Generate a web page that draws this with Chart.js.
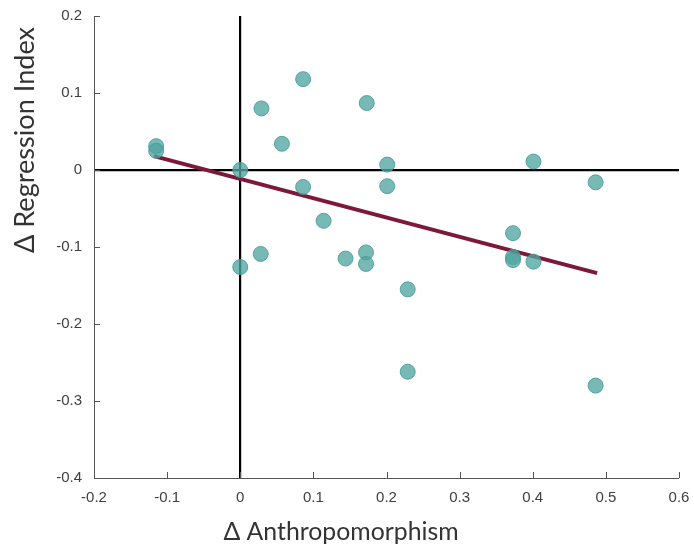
<!DOCTYPE html>
<html>
<head>
<meta charset="utf-8">
<script src="https://cdn.jsdelivr.net/npm/chart.js@4/dist/chart.umd.min.js"></script>
<style>
  html, body { margin: 0; padding: 0; background: #ffffff; }
  #wrap { position: relative; width: 694px; height: 550px; }
</style>
</head>
<body>
<div id="wrap"><canvas id="c" width="694" height="550"></canvas></div>
<script>
// ---- data ----
const anthroDelta = [-0.115, -0.115, 0.000, 0.029, 0.057, 0.086, 0.173, 0.201, 0.086, 0.201,
                     0.114, 0.144, 0.172, 0.172, 0.229, 0.229, 0.000, 0.028, 0.401, 0.486,
                     0.373, 0.373, 0.373, 0.401, 0.486];
const regressionDelta = [0.031, 0.025, 0.000, 0.080, 0.034, 0.118, 0.087, 0.007, -0.022, -0.021,
                         -0.066, -0.115, -0.107, -0.122, -0.155, -0.262, -0.126, -0.109, 0.011, -0.016,
                         -0.082, -0.113, -0.117, -0.119, -0.280];
const fitX = [-0.118, 0.488];
const fitY = [0.018, -0.134];
const xTicks = [-0.2, -0.1, 0, 0.1, 0.2, 0.3, 0.4, 0.5, 0.6];
const yTicks = [-0.4, -0.3, -0.2, -0.1, 0, 0.1, 0.2];
const xTitle = 'Δ Anthropomorphism';
const yTitle = 'Δ Regression Index';

const scatterPts = anthroDelta.map((x, i) => ({ x: x, y: regressionDelta[i] }));
const fitPts = fitX.map((x, i) => ({ x: x, y: fitY[i] }));

const tickFont = { family: '"Liberation Sans", Arial, sans-serif', size: 15 };
const tickColor = '#404040';
const axisColor = '#555555';

// inward tick marks on left and bottom axes
const inwardTicks = {
  id: 'inwardTicks',
  afterDatasetsDraw(chart) {
    const { ctx, chartArea, scales } = chart;
    ctx.save();
    ctx.strokeStyle = axisColor;
    ctx.lineWidth = 1;
    const len = 6;
    xTicks.forEach(v => {
      const px = Math.round(scales.x.getPixelForValue(v)) + 0.5;
      ctx.beginPath();
      ctx.moveTo(px, chartArea.bottom);
      ctx.lineTo(px, chartArea.bottom - len);
      ctx.stroke();
    });
    yTicks.forEach(v => {
      const py = Math.round(scales.y.getPixelForValue(v)) + 0.5;
      ctx.beginPath();
      ctx.moveTo(chartArea.left, py);
      ctx.lineTo(chartArea.left + len, py);
      ctx.stroke();
    });
    ctx.restore();
  }
};

// axis titles placed as in the reference
const axisTitles = {
  id: 'axisTitles',
  afterDraw(chart) {
    const { ctx } = chart;
    const fam = 'Lato, "Open Sans", sans-serif';
    function fitFont(text, targetW) {
      ctx.font = '20px ' + fam;
      const w = ctx.measureText(text).width;
      return (20 * targetW / w);
    }
    ctx.save();
    ctx.fillStyle = '#333333';
    ctx.textAlign = 'center';
    ctx.textBaseline = 'alphabetic';
    let fs = fitFont(xTitle, 235);
    ctx.font = fs.toFixed(1) + 'px ' + fam;
    ctx.fillText(xTitle, 341, 540);
    fs = fitFont(yTitle, 226);
    ctx.font = fs.toFixed(1) + 'px ' + fam;
    ctx.translate(34, 140);
    ctx.rotate(-Math.PI / 2);
    ctx.fillText(yTitle, 0, 0);
    ctx.restore();
  }
};

new Chart(document.getElementById('c'), {
  type: 'scatter',
  data: {
    datasets: [
      {
        label: 'data',
        data: scatterPts,
        order: 0,
        pointRadius: 7.5,
        pointHoverRadius: 7.5,
        backgroundColor: 'rgba(80,165,160,0.78)',
        borderColor: 'rgba(70,155,152,0.85)',
        borderWidth: 1
      },
      {
        label: 'fit',
        type: 'line',
        data: fitPts,
        order: 1,
        showLine: true,
        pointRadius: 0,
        borderColor: '#7e1838',
        borderWidth: 4,
        fill: false
      }
    ]
  },
  options: {
    responsive: false,
    animation: false,
    events: [],
    layout: { padding: { left: 0, right: 15, top: 16, bottom: 0 } },
    plugins: { legend: { display: false }, tooltip: { enabled: false } },
    scales: {
      x: {
        type: 'linear',
        min: -0.2, max: 0.6,
        afterFit(s) { s.height = 72; s.paddingLeft = 0; s.paddingRight = 0; },
        afterBuildTicks(s) { s.ticks = xTicks.map(v => ({ value: v })); },
        border: { display: true, color: axisColor, width: 1 },
        grid: {
          drawOnChartArea: true, drawTicks: false,
          color: c => (c.tick && c.tick.value === 0 ? '#000000' : 'rgba(0,0,0,0)'),
          lineWidth: c => (c.tick && c.tick.value === 0 ? 2.2 : 0)
        },
        ticks: {
          font: tickFont, color: tickColor, padding: 11,
          callback: v => String(Math.round(v * 10) / 10)
        }
      },
      y: {
        type: 'linear',
        min: -0.4, max: 0.2,
        afterFit(s) { s.width = 94; s.paddingTop = 0; s.paddingBottom = 0; },
        afterBuildTicks(s) { s.ticks = yTicks.map(v => ({ value: v })); },
        border: { display: true, color: axisColor, width: 1 },
        grid: {
          drawOnChartArea: true, drawTicks: false,
          color: c => (c.tick && c.tick.value === 0 ? '#000000' : 'rgba(0,0,0,0)'),
          lineWidth: c => (c.tick && c.tick.value === 0 ? 2.2 : 0)
        },
        ticks: {
          font: tickFont, color: tickColor, padding: 12,
          callback: v => String(Math.round(v * 10) / 10)
        }
      }
    }
  },
  plugins: [inwardTicks, axisTitles]
});
</script>
</body>
</html>
